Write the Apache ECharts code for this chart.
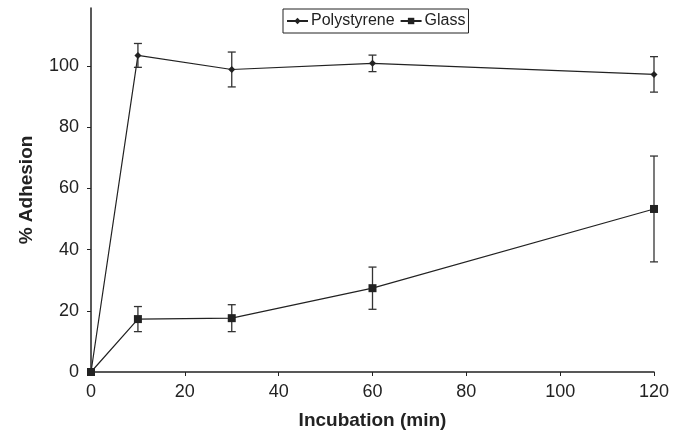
<!DOCTYPE html>
<html>
<head>
<meta charset="utf-8">
<script src="https://cdn.jsdelivr.net/npm/echarts@6/dist/echarts.min.js"></script>
<style>
  html, body { margin: 0; padding: 0; background: #fff; }
  #chart { width: 685px; height: 437px; }
</style>
</head>
<body>
<div id="chart"></div>
<script>
// incubation times (min)
var times = [0, 10, 30, 60, 120];
var polystyrene = [0, 103.5, 98.9, 100.9, 97.3];
var polystyreneErr = [0, 3.9, 5.7, 2.7, 5.8];
var glass = [0, 17.3, 17.6, 27.4, 53.3];
var glassErr = [0, 4.1, 4.4, 6.9, 17.3];

function pairs(xs, ys) {
  return xs.map(function (x, i) { return [x, ys[i]]; });
}
function errRows(xs, ys, es) {
  var rows = [];
  xs.forEach(function (x, i) {
    if (es[i] > 0) rows.push([x, ys[i] - es[i], ys[i] + es[i]]);
  });
  return rows;
}

function renderErr(params, api) {
  var lo = api.coord([api.value(0), api.value(1)]);
  var hi = api.coord([api.value(0), api.value(2)]);
  var cap = 4;
  var style = { stroke: "#333", lineWidth: 1.3 };
  return {
    type: "group",
    children: [
      { type: "line", shape: { x1: lo[0], y1: lo[1], x2: hi[0], y2: hi[1] }, style: style },
      { type: "line", shape: { x1: lo[0] - cap, y1: lo[1], x2: lo[0] + cap, y2: lo[1] }, style: style },
      { type: "line", shape: { x1: hi[0] - cap, y1: hi[1], x2: hi[0] + cap, y2: hi[1] }, style: style }
    ]
  };
}

var chart = echarts.init(document.getElementById("chart"));
chart.setOption({
  animation: false,
  textStyle: { fontFamily: "Liberation Sans, Arial, sans-serif" },
  grid: { left: 91, right: 31, top: 8, bottom: 65 },
  legend: {
    data: ["Polystyrene", "Glass"],
    top: 9,
    left: 283,
    padding: [4, 3],
    itemGap: 5,
    itemWidth: 21,
    itemHeight: 8,
    borderColor: "#222",
    borderWidth: 1,
    textStyle: { fontSize: 16, color: "#222", padding: [0, 0, 0, -2] }
  },
  xAxis: {
    type: "value",
    min: 0,
    max: 120,
    interval: 20,
    name: "Incubation (min)",
    nameLocation: "middle",
    nameGap: 39,
    nameTextStyle: { fontSize: 19, fontWeight: "bold", color: "#222" },
    axisLine: { lineStyle: { color: "#222", width: 1.5 } },
    axisTick: { show: true, inside: false, length: 4, lineStyle: { color: "#222" } },
    axisLabel: { fontSize: 18, color: "#222", margin: 11 },
    splitLine: { show: false }
  },
  yAxis: {
    type: "value",
    min: 0,
    max: 119,
    interval: 20,
    name: "% Adhesion",
    nameLocation: "middle",
    nameGap: 55,
    nameTextStyle: { fontSize: 19, fontWeight: "bold", color: "#222" },
    axisLine: { show: true, lineStyle: { color: "#222", width: 1.5 } },
    axisTick: { show: true, inside: false, length: 4, lineStyle: { color: "#222" } },
    axisLabel: { fontSize: 18, color: "#222", margin: 12, showMaxLabel: false },
    splitLine: { show: false }
  },
  series: [
    {
      name: "Polystyrene",
      type: "line",
      data: pairs(times, polystyrene),
      symbol: "diamond",
      symbolSize: 7,
      color: "#222",
      lineStyle: { color: "#222", width: 1.2 },
      itemStyle: { color: "#222" },
      z: 3
    },
    {
      name: "Glass",
      type: "line",
      data: pairs(times, glass),
      symbol: "rect",
      symbolSize: 8,
      color: "#222",
      lineStyle: { color: "#222", width: 1.2 },
      itemStyle: { color: "#222" },
      z: 3
    },
    {
      type: "custom",
      renderItem: renderErr,
      data: errRows(times, polystyrene, polystyreneErr),
      encode: { x: 0, y: [1, 2] },
      z: 2
    },
    {
      type: "custom",
      renderItem: renderErr,
      data: errRows(times, glass, glassErr),
      encode: { x: 0, y: [1, 2] },
      z: 2
    }
  ]
});
</script>
</body>
</html>
